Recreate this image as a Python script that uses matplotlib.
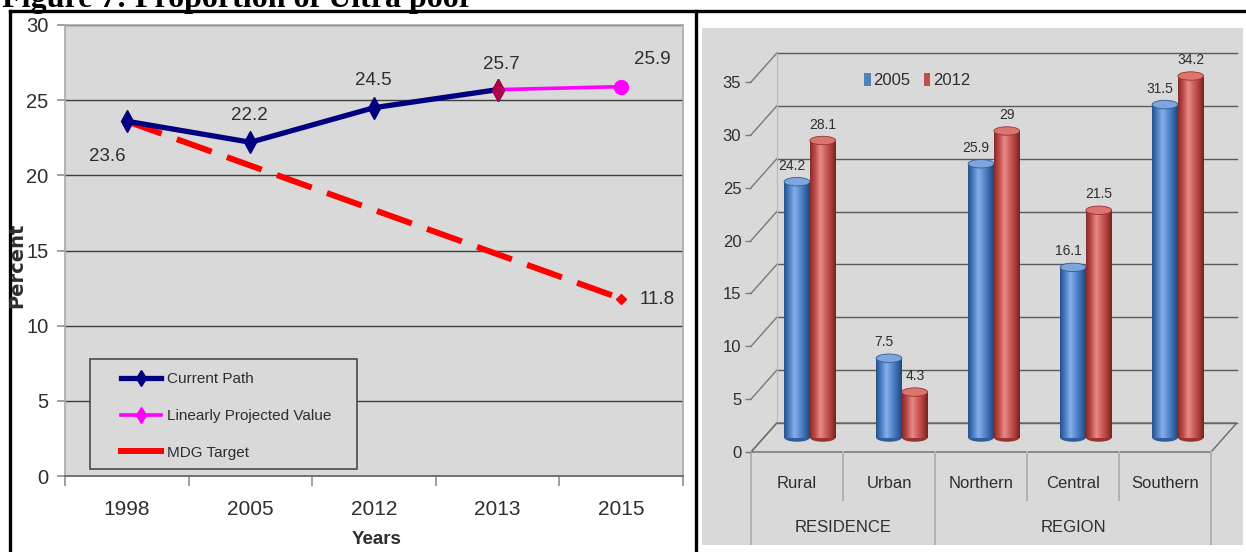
import matplotlib
matplotlib.use("Agg")
import matplotlib.pyplot as plt
import numpy as np
from matplotlib.patches import Ellipse, Rectangle, Patch
from matplotlib.lines import Line2D
from matplotlib.colors import LinearSegmentedColormap

# ---------------- data ----------------
years = ["1998", "2005", "2012", "2013", "2015"]
current_path = [23.6, 22.2, 24.5, 25.7]          # 1998 .. 2013
projected = [25.7, 25.9]                          # 2013, 2015
mdg_target = [23.6, 11.8]                         # 1998, 2015

areas = ["Rural", "Urban", "Northern", "Central", "Southern"]
groups = ["RESIDENCE", "REGION"]
group_sizes = [2, 3]
survey_years = ["2005", "2012"]
poor_2005 = [24.2, 7.5, 25.9, 16.1, 31.5]
poor_2012 = [28.1, 4.3, 29, 21.5, 34.2]

# ---------------- figure ----------------
W, H = 1246, 552
plt.rcParams["font.family"] = ["Liberation Sans", "DejaVu Sans"]
TXT = "#2e2e2e"

fig = plt.figure(figsize=(W / 100, H / 100), dpi=100)


def fx(px):
    return px / W


def fy(py):
    return 1 - py / H


# caption (runs off the top edge)
fig.text(fx(2), fy(7), "Figure 7: Proportion of Ultra poor", family=["Liberation Serif", "DejaVu Serif"],
         weight="bold", fontsize=23, ha="left", va="baseline", color="black")

# table frame
for (x0, y0, x1, y1) in [(9.5, 10.5, 1246, 10.5), (9.5, 10.5, 9.5, 552), (696, 10.5, 696, 552)]:
    fig.add_artist(Line2D([fx(x0), fx(x1)], [fy(y0), fy(y1)], color="black", lw=2.4,
                          transform=fig.transFigure, solid_capstyle="projecting"))

# ---------------- left: poverty path ----------------
ax1 = fig.add_axes([fx(65), fy(476), fx(683) - fx(65), fy(25) - fy(476)])
ax1.set_facecolor("#d9d9d9")
xs = np.arange(len(years))
ax1.set_xlim(-0.5, len(years) - 0.5)
ax1.set_ylim(0, 30)
ax1.set_yticks(range(0, 31, 5))
ax1.yaxis.grid(True, color="#3c3c3c", lw=1.0)
ax1.set_axisbelow(True)
ax1.set_xticks(xs)
ax1.set_xticklabels(years)
ax1.set_xticks(np.arange(-0.5, len(years)), minor=True)
ax1.tick_params(axis="x", which="major", length=0, pad=17, labelsize=15, labelcolor=TXT)
ax1.tick_params(axis="x", which="minor", length=7, color="#909090", width=1.2, direction="out")
ax1.tick_params(axis="y", length=6, color="#909090", width=1.2, pad=6, labelsize=14.5, labelcolor=TXT)
for s in ["top", "right", "left"]:
    ax1.spines[s].set_color("#a8a8a8")
    ax1.spines[s].set_linewidth(1.2)
ax1.spines["bottom"].set_color("#707070")
ax1.spines["bottom"].set_linewidth(1.4)

n_cur = len(current_path)
ax1.plot(xs[:n_cur], current_path, color="#000080", lw=3.8, marker="d", ms=11,
         mfc="#000080", mec="#000080", zorder=4, solid_joinstyle="round")
ax1.plot(xs[n_cur - 1:], projected, color="#ff00ff", lw=2.6, marker="o", ms=10,
         mfc="#ff00ff", mec="#ff00ff", zorder=3, markevery=[1])
ax1.plot(xs[n_cur - 1], projected[0], marker="d", ms=11, color="#b0004c", zorder=5, ls="none")
ax1.plot([xs[0], xs[-1]], mdg_target, color="#ff0000", lw=4.3, dashes=(6.2, 2.7),
         dash_capstyle="butt", zorder=3.5)
ax1.plot(xs[-1], mdg_target[-1], marker="D", ms=5, color="#ff0000", zorder=3.5, ls="none")

lab_kw = dict(textcoords="offset pixels", ha="center", va="center", fontsize=13.5, color=TXT)
ax1.annotate(f"{current_path[0]:g}", (xs[0], current_path[0]), xytext=(-19, -35), **lab_kw)
for i in range(1, n_cur - 1):
    ax1.annotate(f"{current_path[i]:g}", (xs[i], current_path[i]), xytext=(-1, 27), **lab_kw)
ax1.annotate(f"{current_path[-1]:g}", (xs[n_cur - 1], current_path[-1]), xytext=(4, 25), **lab_kw)
ax1.annotate(f"{projected[-1]:g}", (xs[-1], projected[-1]), xytext=(31, 27), **lab_kw)
ax1.annotate(f"{mdg_target[-1]:g}", (xs[-1], mdg_target[-1]), xytext=(36, -1), **lab_kw)

# legend box with its entries
ax1.add_patch(Rectangle((0.040, 0.0155), 0.432, 0.244, transform=ax1.transAxes,
                        facecolor="#d9d9d9", edgecolor="#4a4a4a", lw=1.2, zorder=6))
handles = [
    Line2D([], [], color="#000080", lw=3.8, marker="d", ms=8, mfc="#000080", mec="#000080"),
    Line2D([], [], color="#ff00ff", lw=2.6, marker="d", ms=8, mfc="#ff00ff", mec="#ff00ff"),
    Line2D([], [], color="#ff0000", lw=4.3),
]
leg1 = ax1.legend(handles, ["Current Path", "Linearly Projected Value", "MDG Target"],
                  loc="upper left", bbox_to_anchor=((121 - 65) / 618, (476 - 372) / 451),
                  frameon=False, fontsize=11, handlelength=2.6, handletextpad=0.4,
                  labelspacing=1.5, borderpad=0, borderaxespad=0)
for t in leg1.get_texts():
    t.set_color(TXT)
leg1.set_zorder(7)

fig.text(fx(377), fy(540), "Years", weight="bold", fontsize=13.5, ha="center", va="center", color=TXT)
fig.text(fx(17), fy(265), "Percent", family=["DejaVu Sans"], weight="bold",
         fontsize=14, rotation=90, ha="center", va="center", color=TXT)

# ---------------- right: 3-D style cylinders ----------------
CW, X0 = 92.0, 751.0       # pixels per category, front-left floor corner
VS, Y0 = 10.57, 452.0      # pixels per percent, front floor level
DX, DY = 0.28, 2.74        # depth of the box in data units


def u(px):
    return (px - X0) / CW


def v(py):
    return (Y0 - py) / VS


ax2 = fig.add_axes([fx(702), fy(545), fx(1243) - fx(702), fy(28) - fy(545)])
ax2.set_facecolor("#d9d9d9")
for s in ax2.spines.values():
    s.set_visible(False)
ax2.spines["left"].set_position(("data", 0))
ax2.set_xticks([])
yt = list(range(0, 36, 5))
ax2.set_yticks(yt)
ax2.tick_params(axis="y", length=4, color="#7a7a7a", width=1.0, pad=3, labelsize=12, labelcolor=TXT)

n = len(areas)
wall = "#5a5a5a"
for k in yt:
    ax2.plot([DX, n + DX], [k + DY, k + DY], color=wall, lw=1.0, zorder=1)
    ax2.plot([0, DX], [k, k + DY], color="#7a7a7a", lw=1.0, zorder=1)
ax2.plot([DX, DX], [DY, yt[-1] + DY], color="#b8b8b8", lw=0.8, zorder=1)
# floor
ax2.plot([0, n, n + DX, DX, 0], [0, 0, DY, DY, 0], color="#6a6a6a", lw=1.0, zorder=1)

# category axis below the floor
bounds = np.cumsum([0] + group_sizes)
for i in range(n + 1):
    bottom = v(547) if i in bounds else v(500)
    ax2.plot([i, i], [0, bottom], color="#b0b0b0", lw=1.4, zorder=1)
for i, name in enumerate(areas):
    ax2.text(i + 0.5, v(483), name, ha="center", va="center", fontsize=12, color=TXT)
for g, name in enumerate(groups):
    ax2.text((bounds[g] + bounds[g + 1]) / 2, v(528), name, ha="center", va="center",
             fontsize=12, color=TXT)

bw = 0.28
centers = np.arange(n) + 0.5 + DX / 2
blue_grad = LinearSegmentedColormap.from_list(
    "b", ["#284f88", "#4a7fc4", "#86b0e6", "#5c8fd2", "#3b6cb0", "#22467a"])
red_grad = LinearSegmentedColormap.from_list(
    "r", ["#86292a", "#c24e4b", "#e88c88", "#d0605c", "#ae3f3b", "#742422"])
grad = np.linspace(0, 1, 64)[None, :]
cap_h = 0.8


def cylinders(xpos, values, cmap, cap, base, dx_lab):
    bars = ax2.bar(xpos, values, width=bw, bottom=DY / 2, color="none", edgecolor="none", zorder=3)
    for rect, val in zip(bars.patches, values):
        x, w = rect.get_x(), rect.get_width()
        y0, h = rect.get_y(), rect.get_height()
        ax2.add_patch(Ellipse((x + w / 2, y0), w, cap_h, facecolor=base, edgecolor="none", zorder=2.5))
        im = ax2.imshow(grad, cmap=cmap, extent=[x, x + w, y0, y0 + h], aspect="auto",
                        interpolation="bilinear", zorder=3)
        im.set_clip_path(rect)
        ax2.add_patch(Ellipse((x + w / 2, y0 + h), w, cap_h, facecolor=cap,
                              edgecolor=base, lw=0.6, zorder=4))
        ax2.annotate(f"{val:g}", (x + w / 2, y0 + h), xytext=(dx_lab, 16),
                     textcoords="offset pixels", ha="center", va="center", fontsize=10,
                     color=TXT, zorder=5)


cylinders(centers - bw / 2, poor_2005, blue_grad, "#7ea6dc", "#2f5c9a", -5)
cylinders(centers + bw / 2, poor_2012, red_grad, "#dc746f", "#963230", 0)

leg2 = ax2.legend([Patch(facecolor="#4f81bd"), Patch(facecolor="#c0504d")], survey_years,
                  loc="upper left", bbox_to_anchor=((864 - 702) / 541, (545 - 73) / 517),
                  ncol=2, frameon=False, fontsize=12, handlelength=0.4, handleheight=0.8,
                  handletextpad=0.15, columnspacing=0.8, borderpad=0, borderaxespad=0)
for t in leg2.get_texts():
    t.set_color(TXT)

ax2.set_xlim(u(702), u(1243))
ax2.set_ylim(v(545), v(28))

fig.savefig("out.png", dpi=100, facecolor="white")
